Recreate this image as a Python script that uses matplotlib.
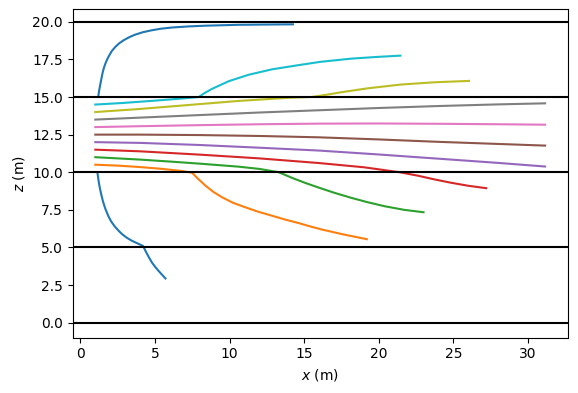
import matplotlib
matplotlib.use("Agg")
import matplotlib.pyplot as plt

# ray paths, one (x, z) pair of lists per ray
ray0_x = [1.14, 1.20, 1.27, 1.38, 1.50, 1.66, 1.86, 2.06, 2.30, 2.55, 2.79, 3.10, 3.46, 3.85, 4.20, 4.30, 4.40, 4.60, 4.80, 5.02, 5.25, 5.48, 5.70]
ray0_z = [10.0, 9.55, 9.12, 8.60, 8.11, 7.60, 7.11, 6.73, 6.40, 6.12, 5.89, 5.65, 5.44, 5.26, 5.10, 4.90, 4.70, 4.33, 3.99, 3.70, 3.43, 3.18, 2.94]

ray1_x = [1.0, 2.5, 3.91, 5.4, 6.81, 7.48, 7.9, 8.37, 8.9, 9.49, 10.2, 11.05, 11.9, 12.84, 13.7, 14.63, 15.4, 16.19, 17.7, 19.2]
ray1_z = [10.5, 10.44, 10.35, 10.23, 10.08, 9.97, 9.55, 9.12, 8.70, 8.34, 7.98, 7.67, 7.38, 7.11, 6.86, 6.62, 6.40, 6.19, 5.85, 5.55]

ray2_x = [1.0, 4.0, 6.14, 8.0, 10.61, 12.0, 13.3, 14.2, 15.1, 16.0, 17.0, 18.15, 19.2, 20.39, 21.7, 23.0]
ray2_z = [11.0, 10.84, 10.70, 10.57, 10.37, 10.22, 10.0, 9.62, 9.28, 8.97, 8.64, 8.30, 8.02, 7.74, 7.50, 7.34]

ray3_x = [1.0, 4.0, 8.0, 12.0, 16.0, 19.0, 21.4, 22.62, 23.7, 24.85, 26.0, 27.2]
ray3_z = [11.5, 11.39, 11.17, 10.92, 10.61, 10.33, 10.0, 9.77, 9.53, 9.30, 9.10, 8.94]

ray4_x = [1.0, 4.0, 8.0, 12.0, 16.0, 20.0, 24.0, 28.0, 31.15]
ray4_z = [12.0, 11.95, 11.81, 11.63, 11.44, 11.18, 10.90, 10.62, 10.38]

ray5_x = [1.0, 4.0, 8.0, 12.0, 16.0, 20.0, 24.0, 28.0, 31.15]
ray5_z = [12.5, 12.50, 12.47, 12.41, 12.32, 12.18, 12.02, 11.88, 11.77]

ray6_x = [1.0, 4.0, 8.0, 12.0, 16.0, 20.0, 24.0, 28.0, 31.15]
ray6_z = [13.0, 13.06, 13.13, 13.19, 13.23, 13.24, 13.22, 13.19, 13.16]

ray7_x = [1.0, 4.0, 8.0, 12.0, 16.0, 20.0, 24.0, 28.0, 31.15]
ray7_z = [13.5, 13.63, 13.80, 13.97, 14.12, 14.27, 14.40, 14.51, 14.58]

ray8_x = [1.0, 3.91, 7.26, 10.61, 13.96, 15.5, 16.5, 17.5, 19.27, 21.5, 23.74, 26.05]
ray8_z = [14.0, 14.2, 14.47, 14.74, 14.95, 15.0, 15.15, 15.32, 15.58, 15.83, 15.98, 16.07]

ray9_x = [1.0, 2.79, 5.02, 6.81, 7.93, 8.3, 8.82, 9.94, 11.28, 12.84, 14.63, 16.1, 18.15, 19.8, 21.45]
ray9_z = [14.5, 14.60, 14.76, 14.90, 15.0, 15.25, 15.54, 16.05, 16.48, 16.84, 17.12, 17.34, 17.55, 17.66, 17.75]

ray10_x = [1.19, 1.26, 1.34, 1.42, 1.50, 1.58, 1.67, 1.78, 1.90, 2.10, 2.34, 2.60, 2.91, 3.28, 3.68, 4.20, 4.80, 5.40, 6.14, 7.2, 8.37, 10.6, 12.84, 14.25]
ray10_z = [15.0, 15.45, 15.87, 16.28, 16.66, 16.95, 17.21, 17.47, 17.71, 18.05, 18.33, 18.57, 18.78, 18.98, 19.15, 19.31, 19.44, 19.54, 19.62, 19.69, 19.74, 19.80, 19.82, 19.83]

interfaces = [0, 5, 10, 15, 20]

rays = [(ray0_x, ray0_z), (ray1_x, ray1_z), (ray2_x, ray2_z), (ray3_x, ray3_z),
        (ray4_x, ray4_z), (ray5_x, ray5_z), (ray6_x, ray6_z), (ray7_x, ray7_z),
        (ray8_x, ray8_z), (ray9_x, ray9_z), (ray10_x, ray10_z)]

fig = plt.figure(figsize=(5.78, 3.93), dpi=100)
ax = fig.add_axes([0.126, 0.141, 0.856, 0.835])

for i, (xs, zs) in enumerate(rays):
    ax.plot(xs, zs, color="C%d" % (i % 10))

for z in interfaces:
    ax.axhline(z, color="k")

ax.set_xlabel("$x$ (m)")
ax.set_ylabel("$z$ (m)")

fig.savefig("out.png", dpi=100)
